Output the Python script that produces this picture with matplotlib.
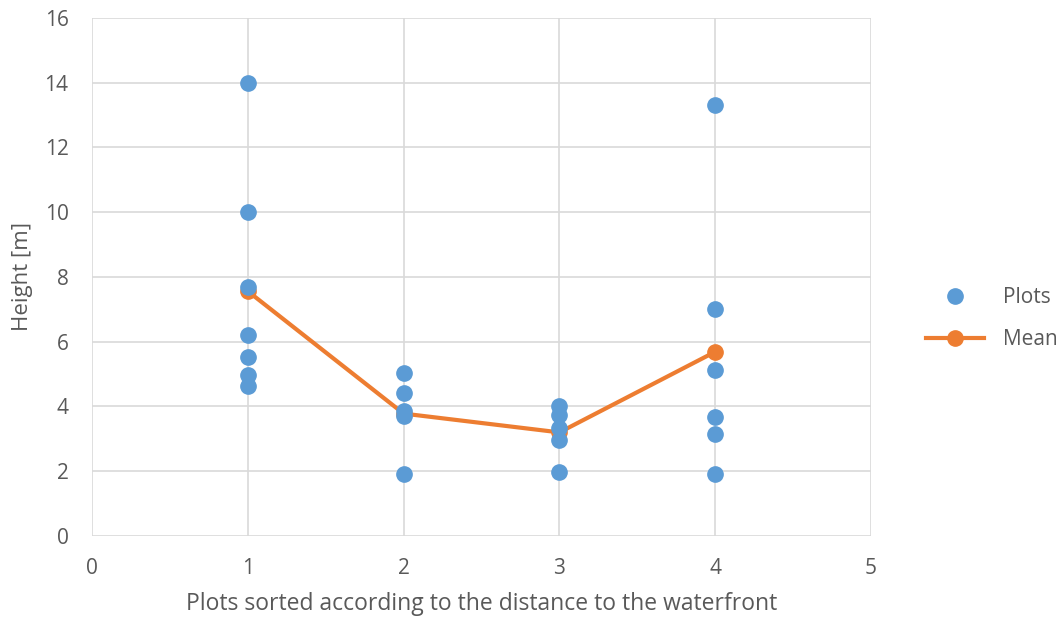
import matplotlib.pyplot as plt

plt.rcParams['font.family'] = ['Open Sans', 'DejaVu Sans']

# individual plot heights
plot_x = [1, 1, 1, 1, 1, 1, 1,
          2, 2, 2, 2, 2,
          3, 3, 3, 3, 3,
          4, 4, 4, 4, 4, 4]
plot_h = [14.0, 10.0, 7.7, 6.2, 5.52, 4.96, 4.62,
          5.02, 4.42, 3.85, 3.71, 1.92,
          4.02, 3.73, 3.33, 2.97, 1.98,
          13.31, 7.01, 5.12, 3.68, 3.16, 1.93]

mean_x = [1, 2, 3, 4]
mean_h = [7.56, 3.78, 3.2, 5.69]

blue = '#5b9bd5'
orange = '#ed7d31'
grey = '#595959'

fig = plt.figure(figsize=(10.63, 6.18), dpi=100)
ax = fig.add_axes([0.0866, 0.1327, 0.7328, 0.8382])

ax.plot(plot_x, plot_h, 'o', color=blue, markersize=11, label='Plots', zorder=3)
ax.plot(mean_x, mean_h, '-o', color=orange, lw=3, markersize=11, label='Mean', zorder=2)

ax.set_xlim(0, 5)
ax.set_ylim(0, 16)
ax.set_xticks(range(0, 6))
ax.set_yticks(range(0, 17, 2))
ax.grid(True, color='#d9d9d9', lw=1.2)
ax.set_axisbelow(True)
for s in ax.spines.values():
    s.set_visible(False)
ax.tick_params(length=0, labelsize=15, colors=grey)
ax.tick_params(axis='x', pad=16)
ax.tick_params(axis='y', pad=17)

ax.set_xlabel('Plots sorted according to the distance to the waterfront', fontsize=16.5, color=grey, labelpad=9)
ax.set_ylabel('Height [m]', fontsize=16, color=grey, labelpad=8)

leg = ax.legend(loc='center left', bbox_to_anchor=(1.07, 0.42), frameon=False,
                fontsize=15, labelspacing=1.0, handlelength=2.8, handletextpad=0.9,
                borderpad=0, borderaxespad=0)
for t in leg.get_texts():
    t.set_color(grey)

fig.savefig('out.png', dpi=100)
